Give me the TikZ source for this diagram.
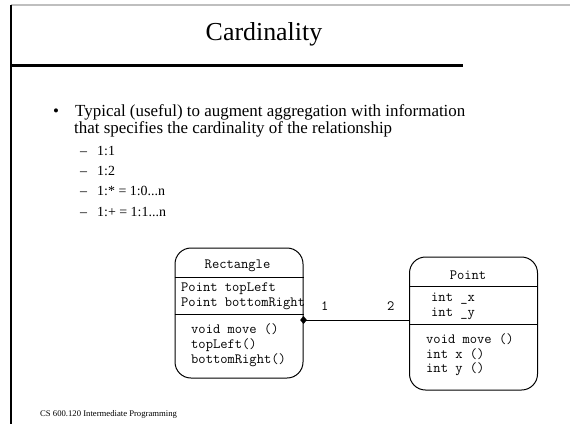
\documentclass[tikz,border=0pt]{standalone}
\usepackage{fontspec}
\setmainfont{Liberation Serif}
\usetikzlibrary{arrows.meta, positioning, shapes, calc}

\begin{document}
\begin{tikzpicture}[
    x=1bp, y=-1bp,
    classbox/.style={rectangle, draw, line width=1bp, rounded corners=16bp, minimum width=128bp},
    member/.style={font=\ttfamily\fontsize{14.2}{15}\selectfont, anchor=base west, inner sep=0pt},
    bodytext/.style={font=\fontsize{17}{18}\selectfont, anchor=base west, inner sep=0pt},
    subitem/.style={font=\fontsize{14}{16}\selectfont, anchor=base west, inner sep=0pt},
    divider/.style={line width=1bp}
]
\useasboundingbox (0,0) rectangle (570,424);

% slide frame
\draw[black!25, line width=1.5bp] (11,5) -- (570,5);
\draw[line width=1.2bp] (11,5) -- (11,424);
\draw[line width=3bp] (11,65) -- (463,65);

\node[font=\fontsize{26}{30}\selectfont] (title) at (264,34) {Cardinality};

% bullet text
\node[bodytext] (bullet) at (53,116) {\textbullet};
\node[bodytext] (line1) at (75,116) {Typical (useful) to augment aggregation with information};
\node[bodytext] (line2) at (74,133) {that specifies the cardinality of the relationship};
\node[subitem] (card1) at (80,155) {\makebox[17bp][l]{–}1:1};
\node[subitem] (card2) at (80,175) {\makebox[17bp][l]{–}1:2};
\node[subitem] (card3) at (80,195) {\makebox[17bp][l]{–}1:* = 1:0...n};
\node[subitem] (card4) at (80,216) {\makebox[17bp][l]{–}1:+ = 1:1...n};

% class Rectangle
\node[classbox, minimum height=130bp] (rect) at (239,313) {};
\draw[divider] (rect.west |- 0,277) -- (rect.east |- 0,277);
\draw[divider] (rect.west |- 0,314) -- (rect.east |- 0,314);
\node[member, anchor=base] (rname) at (237.5,268) {Rectangle};
\node[member] (rattr1) at (181,291) {Point topLeft};
\node[member] (rattr2) at (181,306) {Point bottomRight};
\node[member] (rop1) at (191,333) {void move ()};
\node[member] (rop2) at (191,348) {topLeft()};
\node[member] (rop3) at (191,363) {bottomRight()};

% class Point
\node[classbox, minimum height=133bp] (pnt) at (473.5,323.5) {};
\draw[divider] (pnt.west |- 0,286) -- (pnt.east |- 0,286);
\draw[divider] (pnt.west |- 0,324) -- (pnt.east |- 0,324);
\node[member, anchor=base] (pname) at (468,279) {Point};
\node[member] (pattr1) at (431,301.5) {int \_x};
\node[member] (pattr2) at (431,316) {int \_y};
\node[member] (pop1) at (426,343) {void move ()};
\node[member] (pop2) at (426,358) {int x ()};
\node[member] (pop3) at (426,372.5) {int y ()};

% aggregation
\node[diamond, fill, inner sep=0pt, minimum width=7bp, minimum height=8bp] (agg) at (rect.east |- 0,320) {};
\draw[line width=1bp] (agg.center) -- (agg -| pnt.west);
\node[member] (mult1) at (321,310) {1};
\node[member] (mult2) at (387,310) {2};

\node[font=\fontsize{8.7}{10}\selectfont, anchor=base west, inner sep=0pt] (footer) at (40,416) {CS 600.120 Intermediate Programming};
\end{tikzpicture}
\end{document}
